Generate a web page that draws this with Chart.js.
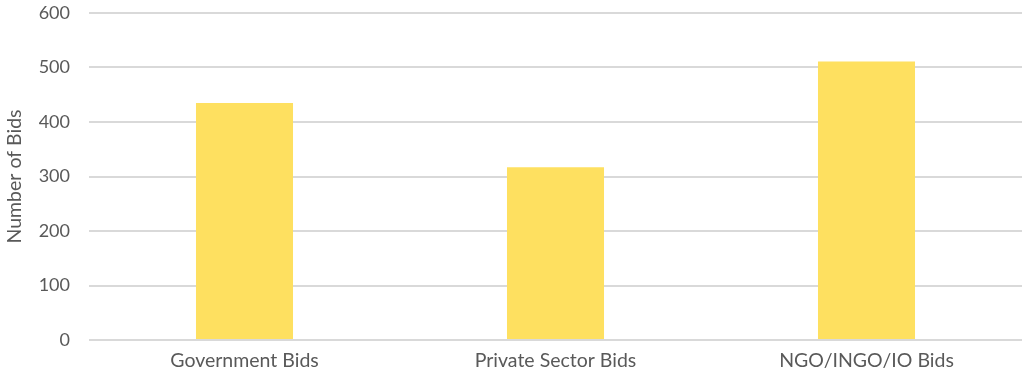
<!DOCTYPE html>
<html>
<head>
<meta charset="utf-8">
<script src="https://cdn.jsdelivr.net/npm/chart.js@4"></script>
<style>
  html, body { margin: 0; padding: 0; background: #ffffff; }
  #wrap { width: 1024px; height: 377px; position: relative; }
</style>
</head>
<body>
<div id="wrap"><canvas id="chart"></canvas></div>
<script>
// Bid counts by bidder type
const categories = ["Government Bids", "Private Sector Bids", "NGO/INGO/IO Bids"];
const bidCounts = [435, 317, 511];
const yTicks = [0, 100, 200, 300, 400, 500, 600];

const textColor = "#595959";
const gridColor = "#D9D9D9";
const fontFamily = "Lato, 'Open Sans', sans-serif";

new Chart(document.getElementById("chart"), {
  type: "bar",
  data: {
    labels: categories,
    datasets: [{
      data: bidCounts,
      backgroundColor: "#FEE060",
      borderWidth: 0,
      barPercentage: 0.52,
      categoryPercentage: 0.6
    }]
  },
  options: {
    responsive: true,
    maintainAspectRatio: false,
    animation: false,
    layout: { padding: { top: 0, right: 2, left: 0, bottom: 0 } },
    plugins: { legend: { display: false }, tooltip: { enabled: false } },
    scales: {
      x: {
        grid: { display: false, drawTicks: false },
        border: { display: false },
        ticks: { color: textColor, font: { family: fontFamily, size: 19.5 }, padding: 9 },
        afterFit: (scale) => { scale.height = 37; }
      },
      y: {
        min: 0,
        max: 600,
        afterBuildTicks: (scale) => { scale.ticks = yTicks.map(v => ({ value: v })); },
        grid: { color: gridColor, lineWidth: 2, drawTicks: false },
        border: { display: false },
        ticks: { color: textColor, font: { family: fontFamily, size: 18 }, padding: 19 },
        title: {
          display: true,
          text: "Number of Bids",
          color: textColor,
          font: { family: fontFamily, size: 19.5 },
          padding: { top: 3, bottom: 0 }
        },
        afterFit: (scale) => {
          scale.width = 89;
          scale.paddingTop = 13;
          scale.paddingBottom = 0;
        }
      }
    }
  }
});
</script>
</body>
</html>
